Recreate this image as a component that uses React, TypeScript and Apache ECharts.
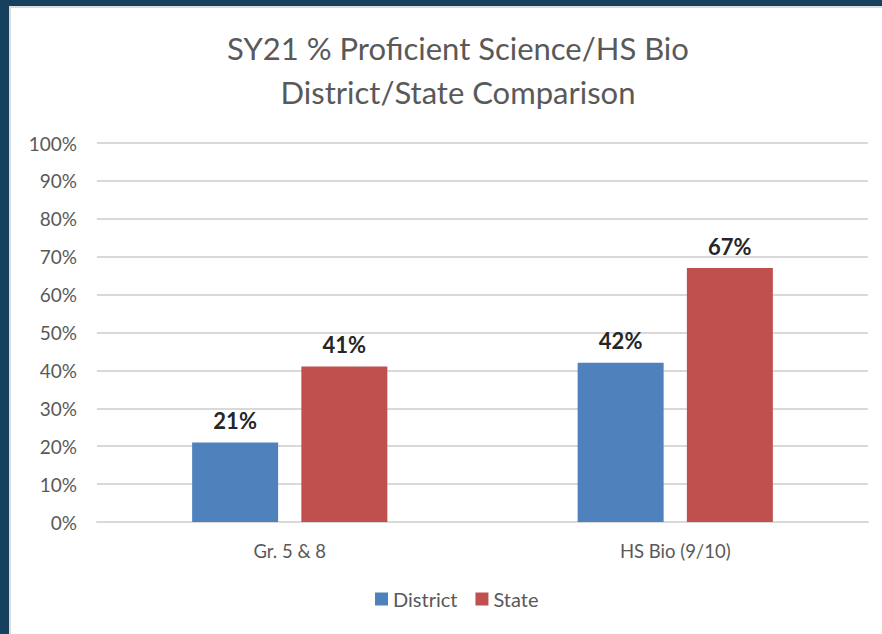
import React, { useEffect, useRef } from "react";
import * as echarts from "echarts";

const categories = ["Gr. 5 & 8", "HS Bio (9/10)"];
const districtValues = [21, 42];
const stateValues = [41, 67];
const seriesNames = ["District", "State"];
const titleLines = ["SY21 % Proficient Science/HS Bio", "District/State Comparison"];

export default function App() {
  const ref = useRef<HTMLDivElement>(null);
  useEffect(() => {
    const chart = echarts.init(ref.current!, undefined, { renderer: "svg" });
    const font = "Lato, 'Open Sans', sans-serif";
    const labelStyle = {
      show: true,
      position: "top" as const,
      distance: 11,
      formatter: (p: any) => p.value + "%",
      color: "#262626",
      fontWeight: "bold" as const,
      fontSize: 22,
      fontFamily: font,
    };
    chart.setOption({
      animation: false,
      title: {
        text: titleLines.join("\n"),
        left: 453,
        textAlign: "center",
        top: 21,
        textStyle: {
          fontSize: 31,
          fontWeight: "normal",
          color: "#595959",
          fontFamily: font,
          lineHeight: 44,
        },
      },
      grid: { left: 97, right: 14, top: 143, bottom: 112 },
      legend: {
        bottom: 20,
        left: 370,
        itemWidth: 13,
        itemHeight: 13,
        itemGap: 18,
        icon: "rect",
        textStyle: { fontSize: 20, color: "#595959", fontFamily: font },
        data: seriesNames,
      },
      xAxis: {
        type: "category",
        data: categories,
        axisLine: { lineStyle: { color: "#d9d9d9", width: 2 } },
        axisTick: { show: false },
        axisLabel: { color: "#595959", fontSize: 18.5, margin: 19, fontFamily: font },
      },
      yAxis: {
        type: "value",
        min: 0,
        max: 100,
        interval: 10,
        axisLine: { show: false },
        axisTick: { show: false },
        splitLine: { lineStyle: { color: "#d9d9d9", width: 2 } },
        axisLabel: {
          formatter: "{value}%",
          color: "#595959",
          fontSize: 19,
          margin: 20,
          fontFamily: font,
        },
      },
      series: [
        {
          name: seriesNames[0],
          type: "bar",
          data: districtValues,
          barWidth: 86,
          barGap: "27%",
          itemStyle: { color: "#4f81bd" },
          label: labelStyle,
        },
        {
          name: seriesNames[1],
          type: "bar",
          data: stateValues,
          barWidth: 86,
          barGap: "27%",
          itemStyle: { color: "#c0504d" },
          label: labelStyle,
        },
      ],
    });
    return () => chart.dispose();
  }, []);
  return (
    <div style={{ position: "fixed", left: 0, top: 0, width: 882, height: 634, background: "#17405f" }}>
      <div
        style={{
          position: "absolute",
          left: 9,
          top: 6,
          width: 873,
          height: 628,
          background: "#fff",
          borderLeft: "2px solid #dcdcdc",
          borderTop: "2px solid #dcdcdc",
          boxSizing: "border-box",
        }}
      />
      <div ref={ref} style={{ position: "absolute", left: 0, top: 0, width: 882, height: 634 }} />
    </div>
  );
}
